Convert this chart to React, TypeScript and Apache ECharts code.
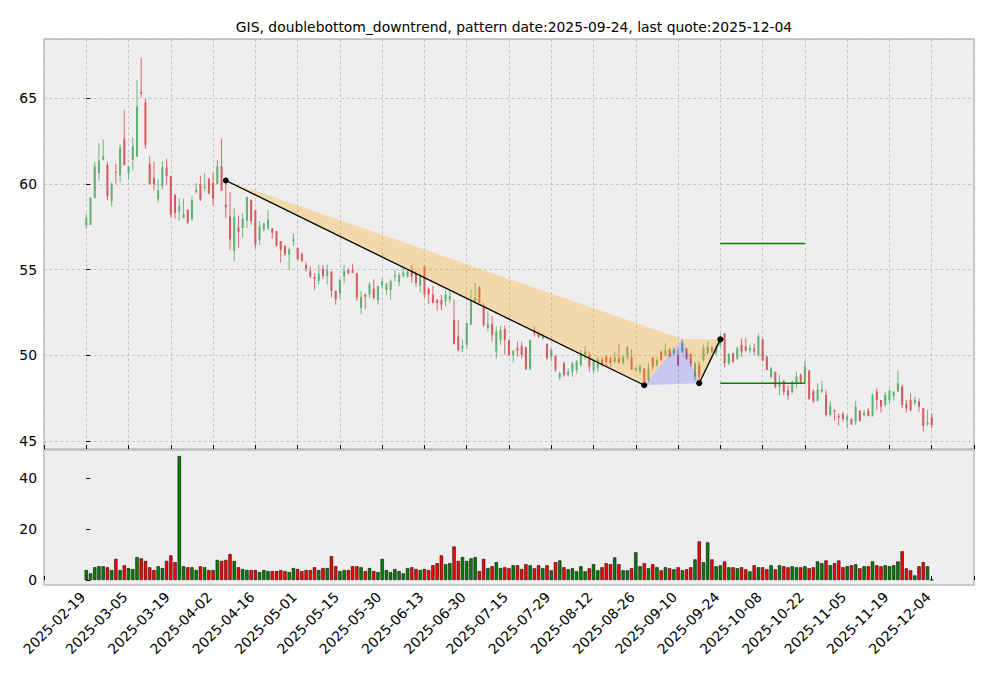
import React, { useEffect, useRef } from "react";
import * as echarts from "echarts";

const titleText = "GIS, doublebottom_downtrend, pattern date:2025-09-24, last quote:2025-12-04";

const tickLabels = [
  "2025-02-19", "2025-03-05", "2025-03-19", "2025-04-02", "2025-04-16", "2025-05-01", "2025-05-15",
  "2025-05-30", "2025-06-13", "2025-06-30", "2025-07-15", "2025-07-29", "2025-08-12", "2025-08-26",
  "2025-09-10", "2025-09-24", "2025-10-08", "2025-10-22", "2025-11-05", "2025-11-19", "2025-12-04",
];

const opens = [
  57.58, 57.60, 59.19, 60.64, 61.42, 61.10, 58.99, 60.70, 60.50, 62.64,
  60.62, 61.41, 61.60, 65.37, 64.75, 61.18, 60.35, 59.10, 59.86, 60.95,
  60.45, 59.36, 58.39, 58.00, 58.50, 57.95, 59.52, 60.00, 59.75, 60.30,
  60.06, 60.00, 61.03, 58.80, 58.12, 56.09, 57.46, 57.42, 57.87, 59.05,
  58.47, 56.72, 57.34, 57.40, 57.40, 57.25, 56.67, 56.40, 55.89, 56.67,
  56.26, 55.90, 55.27, 54.90, 54.57, 54.34, 55.02, 54.63, 54.90, 53.76,
  53.62, 54.63, 54.98, 54.96, 54.78, 52.75, 53.55, 53.55, 53.88, 53.20,
  54.08, 53.80, 53.80, 54.59, 54.27, 54.63, 54.59, 54.96, 54.82, 54.04,
  55.18, 53.88, 53.55, 53.25, 53.22, 53.16, 53.25, 52.08, 51.10, 50.41,
  50.61, 51.78, 53.16, 53.98, 52.76, 51.59, 51.84, 50.22, 50.90, 51.53,
  50.90, 50.02, 50.41, 50.55, 50.47, 49.18, 51.49, 51.29, 51.00, 50.67,
  49.92, 49.96, 48.70, 49.53, 48.84, 49.04, 49.14, 49.43, 50.02, 50.02,
  49.14, 49.24, 49.76, 49.92, 49.82, 49.63, 49.82, 49.57, 49.88, 49.88,
  49.14, 49.04, 49.24, 48.55, 49.88, 49.43, 50.22, 50.02, 50.35, 50.12,
  50.02, 50.22, 50.41, 50.08, 48.75, 49.43, 49.73, 50.12, 50.47, 50.12,
  50.60, 51.27, 49.53, 50.12, 49.82, 50.61, 50.51, 50.27, 50.41, 50.02,
  50.94, 49.92, 48.75, 49.04, 48.16, 48.51, 47.96, 47.86, 48.35, 48.84,
  48.40, 49.10, 47.90, 47.35, 47.88, 47.68, 46.52, 46.81, 46.46, 46.58,
  46.23, 46.28, 46.13, 46.77, 46.52, 46.77, 46.46, 47.88, 47.39, 47.10,
  47.39, 47.60, 47.88, 48.17, 47.16, 47.39, 47.20, 47.30, 46.91, 45.97,
  46.38,
];

const highs = [
  58.27, 59.22, 61.30, 62.38, 62.58, 61.30, 60.10, 61.18, 62.30, 64.32,
  61.07, 62.70, 66.07, 67.35, 64.96, 61.60, 61.30, 60.25, 61.30, 61.47,
  60.48, 59.42, 59.15, 59.15, 58.50, 59.30, 60.05, 60.48, 60.64, 60.35,
  60.64, 61.41, 62.64, 60.20, 59.52, 58.60, 58.16, 58.31, 59.24, 59.09,
  58.47, 57.83, 57.73, 58.50, 57.44, 57.25, 56.67, 56.40, 56.28, 57.10,
  56.32, 55.99, 55.47, 55.20, 54.80, 55.27, 55.27, 55.30, 54.90, 53.76,
  54.47, 55.27, 55.06, 55.35, 54.81, 53.75, 53.60, 54.27, 54.43, 54.04,
  54.49, 54.24, 54.43, 55.00, 54.82, 55.12, 54.98, 55.25, 54.92, 54.82,
  55.18, 53.94, 54.04, 53.25, 53.55, 53.78, 53.84, 53.25, 52.08, 50.90,
  51.88, 53.84, 54.20, 54.04, 53.06, 52.57, 52.27, 51.69, 51.73, 51.73,
  50.90, 50.31, 50.80, 50.80, 50.51, 50.90, 51.69, 51.39, 51.29, 50.67,
  50.41, 50.02, 49.04, 49.63, 49.24, 49.63, 49.73, 50.31, 50.55, 50.22,
  49.82, 49.88, 49.88, 50.02, 49.92, 50.22, 50.67, 50.02, 50.51, 50.35,
  49.33, 49.49, 49.24, 49.53, 49.88, 49.88, 50.31, 50.70, 50.41, 50.47,
  50.31, 50.90, 50.41, 50.12, 49.63, 49.63, 50.61, 50.80, 50.51, 50.61,
  51.26, 51.30, 50.12, 50.16, 50.51, 51.00, 51.00, 50.61, 50.70, 51.25,
  50.94, 49.96, 49.33, 49.04, 48.84, 48.55, 48.25, 48.55, 49.04, 48.94,
  49.68, 49.14, 48.00, 48.37, 48.52, 47.98, 47.30, 46.81, 46.61, 46.71,
  46.52, 46.32, 47.33, 46.81, 46.81, 46.91, 47.78, 48.07, 47.39, 47.88,
  48.02, 47.88, 49.08, 48.27, 47.39, 47.78, 47.59, 47.49, 46.91, 46.81,
  46.61,
];

const lows = [
  57.40, 57.60, 59.15, 60.19, 61.38, 59.05, 58.70, 60.02, 60.10, 61.07,
  60.25, 60.80, 61.60, 65.04, 62.07, 59.96, 59.63, 58.93, 59.69, 59.98,
  58.06, 57.98, 57.87, 58.00, 57.65, 57.85, 59.45, 59.00, 59.57, 59.40,
  58.76, 60.00, 59.61, 58.00, 56.14, 55.50, 56.28, 56.86, 57.42, 57.62,
  56.22, 56.43, 57.21, 57.30, 56.80, 56.34, 55.40, 55.80, 55.00, 56.38,
  55.56, 55.45, 54.88, 54.50, 53.82, 54.15, 54.44, 54.13, 53.37, 52.95,
  53.33, 54.20, 54.73, 54.79, 53.17, 52.40, 52.67, 53.35, 53.25, 52.96,
  53.94, 53.55, 53.25, 54.33, 54.04, 54.53, 54.53, 54.24, 54.00, 53.65,
  53.35, 53.00, 53.02, 52.63, 52.63, 52.86, 53.06, 50.61, 50.22, 50.18,
  50.41, 51.78, 53.02, 53.06, 51.65, 51.39, 50.80, 49.82, 50.60, 50.02,
  49.92, 49.57, 49.92, 49.82, 49.14, 49.14, 51.10, 51.00, 50.90, 49.73,
  49.63, 49.04, 48.55, 48.75, 48.75, 48.75, 48.94, 49.33, 49.73, 49.04,
  48.94, 49.04, 49.33, 49.33, 49.33, 49.53, 49.53, 49.43, 49.69, 49.14,
  49.04, 48.94, 48.26, 48.45, 49.14, 49.33, 49.63, 49.92, 49.88, 50.02,
  49.33, 50.12, 49.73, 49.33, 48.55, 48.37, 49.63, 50.02, 50.12, 50.02,
  50.45, 49.30, 49.43, 49.53, 49.73, 49.92, 50.22, 50.12, 50.02, 49.92,
  49.63, 49.14, 48.65, 48.06, 47.67, 47.67, 47.37, 47.76, 48.06, 48.35,
  48.30, 47.40, 47.22, 47.30, 47.78, 46.42, 46.42, 46.19, 45.88, 46.13,
  45.74, 45.93, 45.93, 46.13, 46.42, 46.42, 46.42, 46.81, 46.65, 47.00,
  47.20, 47.35, 47.88, 46.91, 46.65, 46.71, 47.10, 46.71, 45.54, 45.88,
  45.74,
];

const closes = [
  58.02, 59.20, 61.03, 61.36, 61.63, 59.28, 60.00, 60.64, 62.11, 61.12,
  61.00, 62.20, 64.50, 65.27, 62.29, 60.00, 59.98, 59.63, 60.97, 60.45,
  58.20, 58.30, 58.70, 58.24, 57.75, 59.05, 59.67, 59.09, 59.86, 59.45,
  59.15, 61.03, 59.61, 58.64, 56.76, 58.08, 57.19, 57.97, 59.24, 57.83,
  56.47, 57.52, 57.69, 57.90, 57.15, 56.40, 56.14, 55.90, 56.18, 56.76,
  55.60, 55.50, 55.06, 54.60, 54.44, 54.73, 54.63, 54.96, 53.76, 53.28,
  54.40, 54.92, 54.79, 54.82, 53.36, 53.40, 53.41, 54.14, 53.35, 54.04,
  54.33, 54.14, 54.33, 54.67, 54.67, 54.82, 54.86, 54.59, 54.24, 54.63,
  53.55, 53.55, 53.06, 53.06, 52.96, 53.55, 53.45, 50.67, 50.31, 50.55,
  51.88, 53.16, 53.35, 53.06, 51.78, 51.84, 51.20, 51.39, 51.49, 50.90,
  50.02, 50.27, 50.27, 50.02, 49.18, 50.90, 51.29, 51.10, 51.14, 49.82,
  50.31, 49.14, 48.94, 48.84, 49.04, 49.53, 49.63, 50.02, 50.22, 49.33,
  49.73, 49.73, 49.49, 49.63, 49.57, 49.88, 49.57, 49.88, 50.51, 49.18,
  49.26, 49.37, 48.35, 49.24, 49.33, 49.73, 49.73, 50.31, 49.96, 50.35,
  49.43, 50.71, 49.82, 49.53, 49.53, 48.75, 50.41, 50.51, 50.22, 50.51,
  50.92, 49.53, 50.08, 49.63, 50.41, 50.22, 50.27, 50.41, 50.22, 51.10,
  49.69, 49.14, 49.24, 48.16, 48.45, 47.86, 47.67, 48.45, 48.75, 48.45,
  49.35, 47.45, 47.33, 48.00, 48.02, 46.52, 47.04, 46.70, 46.38, 46.28,
  46.42, 45.97, 47.00, 46.17, 46.65, 46.46, 47.68, 47.39, 47.00, 47.68,
  47.92, 47.88, 48.37, 47.10, 46.91, 46.81, 47.39, 47.00, 45.88, 46.07,
  45.93,
];

const volumes = [
  3.9, 2.6, 5.0, 5.4, 5.4, 5.0, 3.9, 8.3, 3.9, 5.8,
  4.7, 4.3, 9.0, 8.5, 7.5, 5.0, 3.9, 5.4, 4.7, 7.5,
  9.7, 7.0, 48.8, 5.4, 5.0, 5.0, 3.9, 5.4, 5.0, 3.9,
  3.9, 7.9, 7.5, 7.9, 10.2, 7.5, 5.0, 4.3, 3.9, 3.9,
  3.9, 3.1, 3.9, 3.5, 3.5, 3.5, 3.9, 3.5, 3.1, 4.7,
  4.3, 3.5, 3.9, 3.9, 5.0, 3.9, 4.7, 4.7, 9.4, 5.4,
  3.5, 3.9, 3.9, 5.4, 5.4, 5.0, 3.5, 4.7, 3.5, 3.1,
  8.3, 3.9, 3.1, 4.3, 3.5, 2.6, 4.7, 5.0, 4.3, 3.9,
  4.3, 3.9, 5.8, 6.6, 9.7, 6.2, 6.6, 13.2, 7.5, 9.0,
  7.5, 8.5, 9.0, 3.5, 8.3, 4.7, 5.4, 7.0, 4.7, 5.0,
  4.6, 5.8, 5.8, 4.3, 6.2, 5.8, 4.6, 5.8, 4.6, 5.8,
  3.8, 7.0, 7.7, 5.0, 4.2, 4.6, 3.4, 5.4, 3.4, 4.6,
  6.2, 3.8, 5.0, 6.6, 6.2, 8.9, 6.2, 3.8, 3.8, 4.6,
  10.9, 5.4, 6.6, 4.6, 6.2, 5.0, 3.8, 5.0, 4.6, 4.2,
  5.0, 3.8, 4.2, 5.0, 8.1, 15.2, 7.0, 14.8, 8.1, 5.4,
  5.8, 7.3, 5.0, 5.0, 4.6, 5.0, 4.2, 3.4, 5.8, 5.0,
  5.0, 4.2, 5.8, 4.2, 5.8, 5.4, 5.0, 5.4, 5.0, 5.0,
  5.4, 4.6, 5.0, 7.3, 6.6, 7.7, 5.8, 6.6, 7.7, 5.0,
  5.4, 5.8, 6.2, 4.6, 5.4, 5.4, 7.3, 5.8, 5.4, 5.8,
  5.4, 5.8, 7.3, 11.3, 4.6, 3.8, 1.8, 5.4, 7.0, 5.4,
  0,
];

// pattern points [day index, price]: A, B, C, D, E
const patternPoints = [
  [33, 60.2],
  [132, 48.25],
  [141, 50.95],
  [145, 48.37],
  [150, 50.93],
];
// target lines: [startIndex, endIndex, price]
const targetLines = [
  [150, 170, 56.53],
  [150, 170, 48.37],
];

const FONT = "DejaVu Sans";
const FS = 13.9;
const UP = "#5fb071";
const DOWN = "#d35a5e";

export default function App() {
  const ref = useRef<HTMLDivElement>(null);

  useEffect(() => {
    if (!ref.current) return;
    const chart = echarts.init(ref.current, null, { renderer: "svg" });

    const candleData = opens.map((o, i) => [i, o, closes[i], lows[i], highs[i]]);
    const volData = volumes.map((v, i) => ({
      value: [i, v],
      itemStyle: { color: closes[i] >= opens[i] ? "#008000" : "#ff0000" },
    }));

    const split = { show: true, lineStyle: { color: "#b9b9b9", type: [3, 2.5], width: 0.8 } };
    const tick = { show: true, inside: true, length: 4, lineStyle: { color: "#000", width: 1 } };
    const labelStyle = { fontFamily: FONT, fontSize: FS, color: "#000" };

    const option: any = {
      animation: false,
      backgroundColor: "#ffffff",
      title: {
        text: titleText,
        left: 509,
        top: 15,
        textAlign: "center",
        textStyle: { fontFamily: FONT, fontSize: FS, fontWeight: "normal", color: "#000" },
      },
      grid: [
        { left: 44, top: 39, width: 930, height: 410, show: true, backgroundColor: "#eeeeee", borderColor: "#bcbcbc", borderWidth: 1.5 },
        { left: 44, top: 450, width: 930, height: 135, show: true, backgroundColor: "#eeeeee", borderColor: "#bcbcbc", borderWidth: 1.5 },
      ],
      xAxis: [
        {
          type: "value", gridIndex: 0, min: -10, max: 210, interval: 10,
          axisLine: { show: false }, axisTick: tick, axisLabel: { show: false }, splitLine: split,
        },
        {
          type: "value", gridIndex: 1, min: -10, max: 210, interval: 10,
          axisLine: { show: false }, axisTick: tick, splitLine: { show: false },
          axisLabel: {
            ...labelStyle,
            rotate: 45,
            margin: 6,
            padding: [0, 5, 0, 0],
            showMinLabel: true,
            showMaxLabel: true,
            formatter: (v: number) => {
              const k = Math.round(v / 10);
              return v >= 0 && v <= 200 ? tickLabels[k] : "";
            },
          },
        },
      ],
      yAxis: [
        {
          type: "value", gridIndex: 0, min: 44.53, max: 68.46, minInterval: 5, maxInterval: 5,
          axisLine: { show: false }, axisTick: tick, splitLine: split,
          axisLabel: { ...labelStyle, margin: 7, showMinLabel: false, showMaxLabel: false },
        },
        {
          type: "value", gridIndex: 1, min: -1.97, max: 51.2, minInterval: 20, maxInterval: 20,
          axisLine: { show: false }, axisTick: tick, splitLine: { show: false },
          axisLabel: { ...labelStyle, margin: 7, showMinLabel: false, showMaxLabel: false },
        },
      ],
      series: [
        {
          type: "custom",
          name: "candles",
          xAxisIndex: 0,
          yAxisIndex: 0,
          z: 2,
          data: candleData,
          encode: { x: 0, y: [1, 2, 3, 4] },
          renderItem: (params: any, api: any) => {
            const i = api.value(0);
            const o = api.value(1);
            const c = api.value(2);
            const l = api.value(3);
            const h = api.value(4);
            const pO = api.coord([i, o]);
            const pC = api.coord([i, c]);
            const pL = api.coord([i, l]);
            const pH = api.coord([i, h]);
            const color = c >= o ? UP : DOWN;
            const w = 2;
            const top = Math.min(pO[1], pC[1]);
            const ht = Math.max(Math.abs(pO[1] - pC[1]), 0.8);
            return {
              type: "group",
              children: [
                { type: "line", shape: { x1: pH[0], y1: pH[1], x2: pL[0], y2: pL[1] }, style: { stroke: color, lineWidth: 0.9 } },
                { type: "rect", shape: { x: pO[0] - w / 2, y: top, width: w, height: ht }, style: { fill: color } },
              ],
            };
          },
        },
        {
          type: "bar",
          name: "volume",
          xAxisIndex: 1,
          yAxisIndex: 1,
          barWidth: 3.3,
          data: volData,
          itemStyle: { borderColor: "#000", borderWidth: 0.55 },
        },
        {
          type: "custom",
          name: "pattern",
          xAxisIndex: 0,
          yAxisIndex: 0,
          z: 5,
          data: [patternPoints[0]],
          encode: { x: 0, y: 1 },
          renderItem: (params: any, api: any) => {
            const P = patternPoints.map((p) => api.coord(p));
            const [A, B, C, D, E] = P;
            const orange = "rgba(255,165,0,0.28)";
            const blue = "rgba(0,0,255,0.16)";
            const children: any[] = [
              { type: "polygon", shape: { points: [A, C, B] }, style: { fill: orange } },
              { type: "polygon", shape: { points: [C, E, D] }, style: { fill: orange } },
              { type: "polygon", shape: { points: [B, C, D] }, style: { fill: blue } },
            ];
            targetLines.forEach((t) => {
              const s = api.coord([t[0], t[2]]);
              const e = api.coord([t[1], t[2]]);
              children.push({ type: "line", shape: { x1: s[0], y1: s[1], x2: e[0], y2: e[1] }, style: { stroke: "#008000", lineWidth: 1.5 } });
            });
            children.push({ type: "line", shape: { x1: A[0], y1: A[1], x2: B[0], y2: B[1] }, style: { stroke: "#000", lineWidth: 1.3 } });
            children.push({ type: "line", shape: { x1: D[0], y1: D[1], x2: E[0], y2: E[1] }, style: { stroke: "#000", lineWidth: 1.3 } });
            [A, B, D, E].forEach((p) => {
              children.push({ type: "circle", shape: { cx: p[0], cy: p[1], r: 3 }, style: { fill: "#000" } });
            });
            return { type: "group", children };
          },
        },
      ],
    };

    chart.setOption(option);
    return () => chart.dispose();
  }, []);

  return <div ref={ref} style={{ position: "fixed", left: 0, top: 0, width: 993, height: 678 }} />;
}
